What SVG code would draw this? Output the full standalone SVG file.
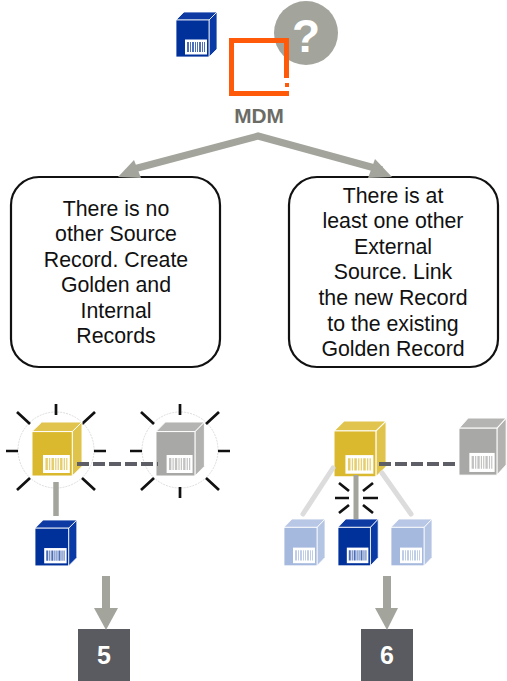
<svg xmlns="http://www.w3.org/2000/svg" width="507" height="681" viewBox="0 0 507 681">
<style>
text{font-family:"Liberation Sans",Arial,sans-serif}
.t{font-size:21.3px;fill:#111;text-anchor:middle}
.box{fill:#fff;stroke:#111;stroke-width:2.2}
.ray{stroke:#111;stroke-width:2.7;fill:none}
.halo{fill:#fff;stroke:#cfcfcf;stroke-width:.7;stroke-dasharray:2 1}
.gl{stroke:#a3a49c;fill:none}
.lg{stroke:#dcdcdc;stroke-width:5;stroke-linecap:round;fill:none}
.dash{stroke:#5d5e66;stroke-width:4;stroke-dasharray:12 4;fill:none}
.arrow{fill:#a3a49c}
.num{fill:#5a5b61}
.n{font-size:25px;font-weight:bold;fill:#fff;text-anchor:middle}
.blue{--f:#00309a;--t:#0d3ba3;--s:#0a3aa6;--b:#00309a}
.pale{--f:#a5b8dd;--t:#b8c7e5;--s:#b4c4e3;--b:#a5b8dd}
.gold{--f:#dbb92f;--t:#e0c44e;--s:#e0c34a;--b:#dbb92f}
.grey{--f:#a8a8a6;--t:#b4b4b2;--s:#b2b2b0;--b:#a8a8a6}
.cf{fill:var(--f);stroke:#fff;stroke-width:.8}
.ct{fill:var(--t);stroke:#fff;stroke-width:.8}
.cs{fill:var(--s);stroke:#fff;stroke-width:.8}
.cl{fill:#fff}
.cb{fill:var(--b);opacity:.7}
</style>
<defs>
<g id="cube">
<path class="cs" d="M33 8 L41 0 V37 L33 45Z"/>
<path class="ct" d="M0 8 L8 0 H41 L33 8Z"/>
<rect class="cf" x="0" y="8" width="33" height="37"/>
<rect class="cl" x="9" y="27.5" width="22" height="15"/>
<path class="cb" d="M11 30h2v10h-2zM14 30h1v10h-1zM16 30h2v10h-2zM19 30h1v10h-1zM21 30h1v10h-1zM23 30h2v10h-2zM26 30h1v10h-1zM28 30h1v10h-1z"/>
</g>
<g id="rays">
<path class="ray" d="M0 -47V-36M0 47V36M-50 0H-38M50 0H38M-39 -39L-26 -27M39 -39L26 -27M-39 39L-26 27M39 39L26 27"/>
</g>
</defs>
<g id="node-question">
<circle cx="306" cy="33" r="32" fill="#a3a49c"/>
<text x="306" y="52" font-size="46" font-weight="bold" fill="#fff" text-anchor="middle">?</text>
</g>
<g id="node-mdm">
<path d="M229 38H289V96H229Z M234 43V91H284V43Z" fill="#ff5a0a" fill-rule="evenodd"/>
<rect x="284" y="78" width="6" height="13" fill="#fff"/>
<rect x="285" y="83" width="4" height="4" fill="#ff5a0a"/>
<text x="259" y="123" font-size="20.8" font-weight="bold" fill="#6b6c66" text-anchor="middle">MDM</text>
</g>
<g id="node-source" class="blue"><use href="#cube" transform="translate(176 12)"/></g>
<g id="node-left">
<rect class="box" x="11" y="177" width="209" height="190" rx="28"/>
<text class="t" x="116" y="216">There is no</text>
<text class="t" x="116" y="241">other Source</text>
<text class="t" x="116" y="267">Record. Create</text>
<text class="t" x="116" y="292">Golden and</text>
<text class="t" x="116" y="318">Internal</text>
<text class="t" x="116" y="343">Records</text>
</g>
<g id="node-right">
<rect class="box" x="289" y="177" width="209" height="190" rx="28"/>
<text class="t" x="393" y="203">There is at</text>
<text class="t" x="393" y="228">least one other</text>
<text class="t" x="393" y="254">External</text>
<text class="t" x="393" y="279">Source. Link</text>
<text class="t" x="393" y="305">the new Record</text>
<text class="t" x="393" y="331">to the existing</text>
<text class="t" x="393" y="356">Golden Record</text>
</g>
<g id="node-gold-left">
<circle class="halo" cx="56" cy="450" r="38"/>
<use href="#rays" transform="translate(56 451)"/>
<g class="gold"><use href="#cube" transform="translate(32 422) scale(1.22 1.2)"/></g>
</g>
<g id="node-grey-left">
<circle class="halo" cx="180" cy="450" r="38"/>
<use href="#rays" transform="translate(180 451)"/>
<g class="grey"><use href="#cube" transform="translate(156 422) scale(1.18 1.2)"/></g>
</g>
<g id="node-blue-left" class="blue"><use href="#cube" transform="translate(35 520) scale(1.02)"/></g>
<g id="node-gold-right" class="gold"><use href="#cube" transform="translate(334 421) scale(1.27 1.24)"/></g>
<g id="node-grey-right" class="grey"><use href="#cube" transform="translate(459 418) scale(1.15 1.27)"/></g>
<g id="node-rays-right">
<ellipse cx="356" cy="498" rx="14" ry="20" fill="#fff"/>
<path class="ray" d="M335 498H349M363 498H378M339 483L349 491M373 483L363 491M339 513L349 505M373 513L363 505"/>
</g>
<g id="node-pale-1" class="pale"><use href="#cube" transform="translate(284 519) scale(1 1.04)"/></g>
<g id="node-blue-right" class="blue"><use href="#cube" transform="translate(338 519) scale(.98 1.04)"/></g>
<g id="node-pale-2" class="pale"><use href="#cube" transform="translate(391 519) scale(1 1.04)"/></g>
<g id="node-5">
<rect class="num" x="78" y="629" width="52" height="52"/>
<text class="n" x="104" y="664">5</text>
</g>
<g id="node-6">
<rect class="num" x="361" y="629" width="52" height="52"/>
<text class="n" x="387" y="664">6</text>
</g>
<g id="connectors">
<path class="gl" style="stroke-width:7" stroke-linejoin="miter" d="M130 170 L258 136 L382 170"/>
<path class="arrow" d="M118 177 L134 160 L141 178Z"/>
<path class="arrow" d="M392 177 L375 159 L368 178Z"/>
<path class="gl" style="stroke-width:5.5" d="M56 482V516"/>
<path class="dash" d="M77 464H158"/>
<path class="lg" d="M333 468L303 514"/>
<path class="lg" d="M382 473L411 514"/>
<path class="gl" style="stroke-width:5" d="M356 475V519"/>
<path class="dash" d="M379 464H459"/>
<path class="gl" style="stroke-width:8" d="M106 576V610"/>
<path class="arrow" d="M94 608H118L106 630Z"/>
<path class="gl" style="stroke-width:8" d="M387 576V610"/>
<path class="arrow" d="M375 608H398L387 630Z"/>
</g>
</svg>
